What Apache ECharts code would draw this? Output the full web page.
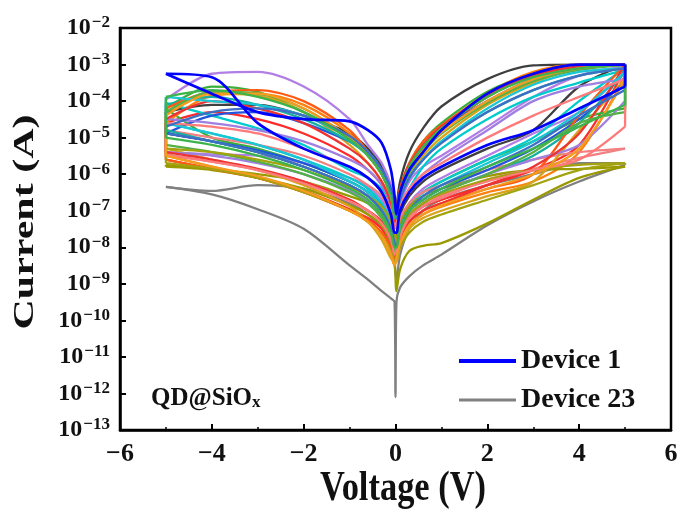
<!DOCTYPE html>
<html><head><meta charset="utf-8">
<script src="https://cdn.jsdelivr.net/npm/echarts@6/dist/echarts.min.js"></script>
<style>html,body{margin:0;padding:0;background:#fff}#c{width:681px;height:516px}</style>
</head><body><div id="c"></div>
<script>
// Voltage sweep grids (V)
const V_POS = [0.02, 0.1, 0.3, 0.6, 1, 2, 3, 4, 5];
const V_NEG = [-0.02, -0.1, -0.3, -0.6, -1, -2, -3, -4, -5];
const X_TICKS = [-6, -4, -2, 0, 2, 4, 6];
const Y_MIN = 1e-13, Y_MAX = 1e-2;
const DEVICES = ['Device 1','Device 2','Device 3','Device 4','Device 5','Device 6','Device 7','Device 8','Device 9','Device 10','Device 11','Device 12','Device 13','Device 14','Device 15','Device 16','Device 17','Device 18','Device 19','Device 20','Device 21','Device 22','Device 23'];
const COLORS = ['#0000ff','#ff2a2a','#3cae3c','#3f3f3f','#b27ee6','#ff7f0e','#00cccc','#999900','#f28080','#d9a21b','#2255dd','#17b0a0','#ff5a14','#9f7fe0','#ee3333','#55b045','#19c6d6','#a3a30f','#ff7a7a','#f39c1f','#3f6fc4','#3cb44b','#808080'];
// current (A), positive side, forward sweep (high-resistance, with set jump)
const POS_HRS = [
 [2.5e-8,1e-7,3.2e-7,7.9e-7,1.6e-6,6.3e-6,1.6e-5,6.3e-5,2.5e-4],
 [1e-8,2.5e-8,6.3e-8,1.3e-7,2e-7,5e-7,1.3e-6,6.3e-6,7.9e-4],
 [1.6e-8,5e-8,1.3e-7,3.2e-7,6.3e-7,2.5e-6,7.9e-6,3.2e-5,6.3e-5],
 [2e-8,7.9e-8,2.5e-7,6.3e-7,1.3e-6,5e-6,1.6e-5,2.5e-4,1e-3],
 [1.6e-8,5e-8,1.6e-7,4e-7,7.9e-7,3.2e-6,1.3e-5,5e-5,6.3e-4],
 [5e-9,1.6e-8,4e-8,7.9e-8,1.3e-7,3.2e-7,6.3e-7,4e-6,5e-4],
 [1e-8,4e-8,1.3e-7,3.2e-7,6.3e-7,2.5e-6,1e-5,1e-4,7.9e-4],
 [6.3e-10,2.5e-9,7.9e-9,1.1e-8,1.3e-8,4.5e-8,2e-7,7.9e-7,1.6e-6],
 [7.9e-9,2.5e-8,7.9e-8,1.4e-7,2.2e-7,7.1e-7,1.4e-6,2.8e-6,5e-6],
 [4e-9,1e-8,3.2e-8,6.3e-8,1e-7,2.5e-7,6.3e-7,1.6e-5,4e-4],
 [1e-8,3.2e-8,1e-7,2e-7,4e-7,1.3e-6,5e-6,3.2e-5,3.2e-4],
 [7.9e-9,2.5e-8,7.9e-8,1.6e-7,3.2e-7,1e-6,3.2e-6,2.5e-5,6.3e-4],
 [6.3e-9,2e-8,5e-8,1e-7,1.6e-7,4e-7,1e-6,4e-5,1e-3],
 [1e-8,3.2e-8,7.9e-8,1.6e-7,3.2e-7,1e-6,2.5e-6,6.3e-6,1e-4],
 [6.3e-9,1.6e-8,5e-8,1e-7,1.6e-7,5e-7,1.6e-6,1.3e-5,1e-3],
 [7.9e-9,2.5e-8,7.9e-8,1.6e-7,3.2e-7,1e-6,4e-6,2.5e-5,5e-5],
 [1e-8,3.2e-8,1e-7,2.5e-7,5e-7,2e-6,7.9e-6,5e-5,6.3e-4],
 [5e-9,1e-8,2.5e-8,5e-8,7.9e-8,2e-7,5e-7,1.3e-6,2e-6],
 [7.9e-9,2e-8,6.3e-8,1.3e-7,2.5e-7,6.3e-7,1.3e-6,2.5e-6,2e-5],
 [5e-9,1.3e-8,4e-8,7.9e-8,1.4e-7,4e-7,1e-6,5e-6,4e-4],
 [1e-8,3.2e-8,1e-7,2.5e-7,5e-7,1.6e-6,6.3e-6,4e-5,2e-4],
 [1e-8,3.2e-8,1e-7,2e-7,4e-7,1.6e-6,5e-6,2e-5,7.9e-5],
 [3.2e-10,7.9e-10,1.6e-9,3.2e-9,6.3e-9,4e-8,1.8e-7,6.3e-7,1.8e-6]
];
// positive side, return sweep (low-resistance)
const POS_LRS = [
 [7.9e-8,3.2e-7,1.3e-6,4e-6,1.6e-5,1.6e-4,5.6e-4,1e-3,1e-3],
 [6.3e-8,2.5e-7,1.3e-6,5e-6,1.6e-5,1.3e-4,5e-4,8.9e-4,1e-3],
 [1e-7,4e-7,2e-6,7.9e-6,2.5e-5,1.8e-4,5.6e-4,8.9e-4,1e-3],
 [1.3e-7,6.3e-7,4e-6,1.8e-5,7.1e-5,4e-4,9.5e-4,1e-3,1e-3],
 [5e-8,1.6e-7,6.3e-7,1.6e-6,3.2e-6,2e-5,1.3e-4,5e-4,8.9e-4],
 [7.9e-8,3.2e-7,1.6e-6,6.3e-6,2e-5,1.6e-4,6.3e-4,1e-3,1e-3],
 [4e-8,1.3e-7,4e-7,1.6e-6,5e-6,3.2e-5,1.3e-4,3.2e-4,7.1e-4],
 [1.6e-8,5e-8,1.3e-7,2.5e-7,4e-7,8.9e-7,1.3e-6,1.4e-6,1.6e-6],
 [2.5e-8,6.3e-8,1.6e-7,3.2e-7,5e-7,1.3e-6,2.5e-6,4e-6,5e-6],
 [6.3e-8,2.5e-7,1e-6,3.2e-6,1e-5,7.9e-5,3.2e-4,7.9e-4,1e-3],
 [7.9e-8,3.2e-7,1.4e-6,5e-6,1.6e-5,1e-4,4e-4,7.9e-4,1e-3],
 [5e-8,2e-7,7.9e-7,2.5e-6,7.9e-6,5e-5,2e-4,5e-4,7.9e-4],
 [1e-7,4e-7,2e-6,7.9e-6,2.2e-5,1.4e-4,5e-4,8.9e-4,1e-3],
 [4e-8,1.3e-7,4e-7,1e-6,2.5e-6,1.6e-5,1e-4,2.5e-4,4e-4],
 [1e-7,4e-7,1.8e-6,6.3e-6,2e-5,1.4e-4,5e-4,8.9e-4,1e-3],
 [6.3e-8,2.5e-7,1.1e-6,4e-6,1.3e-5,8.9e-5,3.5e-4,7.1e-4,1e-3],
 [6.3e-8,2e-7,7.9e-7,2.5e-6,7.9e-6,6.3e-5,2.8e-4,6.3e-4,7.9e-4],
 [1.3e-8,3.2e-8,7.9e-8,1.6e-7,2.8e-7,7.1e-7,1.3e-6,1.8e-6,2e-6],
 [4e-8,1.3e-7,4e-7,1e-6,2e-6,1e-5,4e-5,1.3e-4,4e-4],
 [7.9e-8,3.2e-7,1.4e-6,4.5e-6,1.4e-5,1e-4,4e-4,7.9e-4,1e-3],
 [6.3e-8,2e-7,7.9e-7,2.5e-6,7.1e-6,5e-5,2e-4,5e-4,7.9e-4],
 [7.9e-8,3.2e-7,1.6e-6,5.6e-6,1.8e-5,1.3e-4,4.5e-4,7.9e-4,1e-3],
 [1.3e-9,6.3e-9,3.2e-8,1e-7,2e-7,5e-7,1e-6,2e-6,2e-6]
];
// negative side, sweep 0 -> -5 (low-resistance with reset)
const NEG_LRS = [
 [2.5e-7,1.3e-6,7.1e-6,1.6e-5,2.8e-5,3.2e-5,5e-5,1.6e-4,5.6e-4],
 [4e-8,1.3e-7,5e-7,1.3e-6,3.2e-6,1.3e-5,3.2e-5,5e-5,2.5e-5],
 [6.3e-8,2.5e-7,1e-6,3.2e-6,1e-5,5e-5,1.8e-4,2.5e-4,6.3e-5],
 [7.9e-8,3.2e-7,1.6e-6,5e-6,1.3e-5,4e-5,7.9e-5,7.9e-5,5e-5],
 [1.3e-7,5e-7,2e-6,6.3e-6,3.2e-5,2.5e-4,6.3e-4,5.6e-4,1.1e-4],
 [1e-7,3.2e-7,1e-6,3.2e-6,1.3e-5,7.9e-5,1.6e-4,1.4e-4,2.5e-5],
 [6.3e-8,1.6e-7,4e-7,7.9e-7,1.3e-6,6.3e-6,1.8e-5,4e-5,8.9e-5],
 [1.3e-8,3.2e-8,7.9e-8,1.6e-7,2.5e-7,6.3e-7,1e-6,1.4e-6,1.8e-6],
 [2.5e-8,7.9e-8,2.5e-7,5e-7,1e-6,3.2e-6,6.3e-6,1e-5,1.6e-5],
 [5e-8,1.6e-7,6.3e-7,2e-6,6.3e-6,5e-5,1.4e-4,1.6e-4,5e-5],
 [1e-7,4e-7,1.3e-6,4e-6,7.9e-6,2.5e-5,5e-5,4e-5,1.3e-5],
 [7.9e-8,2.5e-7,1e-6,3.2e-6,7.9e-6,3.2e-5,7.9e-5,1.3e-4,7.9e-5],
 [6.3e-8,2.5e-7,1e-6,4e-6,1.6e-5,1e-4,2e-4,1.8e-4,6.3e-5],
 [5e-8,1.6e-7,5e-7,1.3e-6,2.5e-6,7.9e-6,1.6e-5,2.5e-5,3.2e-5],
 [5e-8,1.6e-7,6.3e-7,2e-6,5e-6,2.5e-5,6.3e-5,1e-4,3.2e-5],
 [7.9e-8,2.5e-7,1e-6,3.2e-6,1e-5,6.3e-5,1.6e-4,1.8e-4,5e-5],
 [1e-7,3.2e-7,1.3e-6,4e-6,1e-5,4e-5,7.9e-5,1e-4,1.3e-4],
 [2e-8,5e-8,1.3e-7,2.5e-7,4.5e-7,1.3e-6,2.5e-6,4e-6,5e-6],
 [3.2e-8,1e-7,3.2e-7,7.9e-7,1.6e-6,5e-6,1.3e-5,2e-5,2.5e-5],
 [7.9e-8,2.5e-7,1e-6,3.2e-6,1e-5,6.3e-5,1.6e-4,1.6e-4,4e-5],
 [1e-7,3.2e-7,1.3e-6,4e-6,1.1e-5,4e-5,6.3e-5,5e-5,2e-5],
 [6.3e-8,2.5e-7,1e-6,3.2e-6,8.9e-6,5e-5,1.3e-4,2e-4,1.3e-4],
 [3.2e-9,1e-8,3.2e-8,7.9e-8,1.6e-7,4e-7,5e-7,3.5e-7,4.5e-7]
];
// negative side, return sweep -5 -> 0 (high-resistance)
const NEG_HRS = [
 [2.5e-8,7.9e-8,3.2e-7,7.9e-7,1.6e-6,5e-6,2.5e-5,4.5e-4,5.6e-4],
 [5e-9,1.3e-8,3.2e-8,6.3e-8,1.1e-7,3.5e-7,7.9e-7,1.4e-6,2.5e-6],
 [1.3e-8,4e-8,1.3e-7,3.2e-7,6.3e-7,2e-6,5e-6,1e-5,6.3e-5],
 [1e-8,3.2e-8,1e-7,2.5e-7,5e-7,1.6e-6,4e-6,7.9e-6,1.3e-5],
 [2e-8,6.3e-8,2e-7,4.5e-7,7.9e-7,2e-6,3.2e-6,3.5e-6,4e-6],
 [3.2e-9,6.3e-9,2e-8,5e-8,1e-7,3.2e-7,7.9e-7,1.6e-6,3.2e-6],
 [1.6e-8,5e-8,1.6e-7,4e-7,7.9e-7,2.5e-6,6.3e-6,1.3e-5,2.5e-5],
 [5e-9,1.3e-8,4e-8,7.9e-8,1.4e-7,4e-7,7.9e-7,1.3e-6,1.6e-6],
 [6.3e-9,1.6e-8,5e-8,1e-7,2e-7,6.3e-7,1.3e-6,2.2e-6,3.5e-6],
 [4e-9,5e-9,1.6e-8,5e-8,1.3e-7,5e-7,1.3e-6,2.5e-6,5e-6],
 [1.3e-8,4e-8,1.3e-7,3.2e-7,6.3e-7,2e-6,4.5e-6,7.9e-6,1.3e-5],
 [1e-8,3.2e-8,1e-7,2.5e-7,5e-7,1.6e-6,4e-6,7.9e-6,1.6e-5],
 [4e-9,1e-8,2.5e-8,5.6e-8,1e-7,3.2e-7,7.9e-7,1.4e-6,2.5e-6],
 [1e-8,2.5e-8,7.9e-8,1.8e-7,3.5e-7,1e-6,2e-6,3.2e-6,4e-6],
 [6.3e-9,1.6e-8,5e-8,1e-7,2e-7,6.3e-7,1.4e-6,2.5e-6,4e-6],
 [7.9e-9,2e-8,6.3e-8,1.6e-7,3.2e-7,1e-6,2.2e-6,4e-6,6.3e-6],
 [1.3e-8,4e-8,1.3e-7,3.2e-7,6.3e-7,2.5e-6,6.3e-6,1.3e-5,2.5e-5],
 [4e-9,7.9e-9,2e-8,5e-8,1e-7,3.2e-7,7.9e-7,1.4e-6,2e-6],
 [6.3e-9,1.6e-8,4.5e-8,1e-7,1.8e-7,5.6e-7,1.3e-6,2.2e-6,3.2e-6],
 [3.2e-9,6.3e-9,2e-8,5e-8,1e-7,3.5e-7,8.9e-7,1.6e-6,3.2e-6],
 [1.3e-8,3.2e-8,1e-7,2.5e-7,5e-7,1.6e-6,4e-6,7.9e-6,1.3e-5],
 [1e-8,2.5e-8,7.9e-8,2e-7,4e-7,1.3e-6,3.2e-6,6.3e-6,1e-5],
 [3.2e-10,4e-10,6.3e-10,1.3e-9,3.2e-9,3.2e-8,1.1e-7,2.8e-7,4.5e-7]
];
// Device 23 minimum current at 0 V
const D23_ZERO = 8e-13;

const FONT = 'Liberation Serif';
const N = V_POS.length;
// high-resistance path: -5 -> 0 -> +5 ; low-resistance path: +5 -> 0 -> -5
function hrsPath(i) {
  const pts = [];
  for (let k = N - 1; k >= 0; k--) pts.push([V_NEG[k], NEG_HRS[i][k]]);
  if (i === 22) pts.push([0, D23_ZERO]);
  for (let k = 0; k < N; k++) pts.push([V_POS[k], POS_HRS[i][k]]);
  return pts;
}
function lrsPath(i) {
  const pts = [];
  for (let k = N - 1; k >= 0; k--) pts.push([V_POS[k], POS_LRS[i][k]]);
  for (let k = 0; k < N; k++) pts.push([V_NEG[k], NEG_LRS[i][k]]);
  return pts;
}
const order = [22]; for (let i = 1; i < 22; i++) order.push(i); order.push(0);
const series = [];
order.forEach(i => {
  const ls = { color: COLORS[i], width: i === 0 ? 2.7 : 2.3 };
  const base = { name: DEVICES[i], type: 'line', symbol: 'none', itemStyle: { color: COLORS[i] }, lineStyle: ls, z: 2 };
  series.push(Object.assign({}, base, { data: hrsPath(i), smooth: 0.3 }));
  series.push(Object.assign({}, base, { data: lrsPath(i), smooth: 0.3 }));
  series.push(Object.assign({}, base, { data: [[V_POS[N - 1], POS_HRS[i][N - 1]], [V_POS[N - 1], POS_LRS[i][N - 1]]] }));
  series.push(Object.assign({}, base, { data: [[V_NEG[N - 1], NEG_LRS[i][N - 1]], [V_NEG[N - 1], NEG_HRS[i][N - 1]]] }));
});
const sup = n => String(n).replace('-', '\u2212');
const chart = echarts.init(document.getElementById('c'), null, { renderer: 'canvas' });
chart.setOption({
  animation: false,
  backgroundColor: '#fff',
  grid: { left: 120, right: 10, top: 28, bottom: 86, show: true, borderColor: '#000', borderWidth: 2.5, backgroundColor: 'transparent' },
  xAxis: {
    type: 'value', min: X_TICKS[0], max: X_TICKS[X_TICKS.length - 1], interval: 2,
    axisLine: { onZero: false, lineStyle: { color: '#000', width: 2.5 } },
    axisTick: { inside: true, length: 6, lineStyle: { color: '#000', width: 2 } },
    minorTick: { show: true, splitNumber: 2, length: 3, lineStyle: { color: '#000', width: 1.5 } },
    splitLine: { show: false },
    axisLabel: { fontFamily: FONT, fontWeight: 'bold', fontSize: 26, color: '#111', margin: 11,
      formatter: v => sup(v) }
  },
  yAxis: {
    type: 'log', logBase: 10, min: Y_MIN, max: Y_MAX, interval: 1,
    axisLine: { onZero: false, lineStyle: { color: '#000', width: 2.5 } },
    axisTick: { inside: true, length: 6, lineStyle: { color: '#000', width: 2 } },
    minorTick: { show: false },
    splitLine: { show: false },
    axisLabel: { margin: 10, color: '#111',
      formatter: v => '{b|10}{s|' + sup(Math.round(Math.log10(v))) + '}',
      rich: {
        b: { fontFamily: FONT, fontWeight: 'bold', fontSize: 24, color: '#111' },
        s: { fontFamily: FONT, fontWeight: 'bold', fontSize: 17, color: '#111', verticalAlign: 'top', padding: [0, 0, 10, 1] }
      } }
  },
  legend: {
    data: [{ name: 'Device 1', lineStyle: { width: 4 } }, { name: 'Device 23', lineStyle: { width: 3 } }],
    orient: 'vertical', left: 452, top: 342, itemWidth: 57, itemHeight: 14, itemGap: 11,
    itemStyle: { opacity: 0 },
    textStyle: { fontFamily: FONT, fontWeight: 'bold', fontSize: 28, color: '#111', lineHeight: 28 }
  },
  graphic: [
    { type: 'text', x: 25, y: 222, rotation: Math.PI / 2, scaleX: 1.05, scaleY: 0.75,
      style: { text: 'Current (A)', font: 'bold 40px "Liberation Serif"', fill: '#111', align: 'center', verticalAlign: 'middle' } },
    { type: 'text', x: 403, y: 489, scaleX: 0.82, scaleY: 1,
      style: { text: 'Voltage (V)', font: 'bold 42px "Liberation Serif"', fill: '#111', align: 'center', verticalAlign: 'middle' } },
    { type: 'text', x: 151, y: 386,
      style: { text: '{a|QD@SiO}{b|x}', rich: {
        a: { fontFamily: FONT, fontWeight: 'bold', fontSize: 25, fill: '#111', color: '#111' },
        b: { fontFamily: FONT, fontWeight: 'bold', fontSize: 17, fill: '#111', color: '#111', padding: [8, 0, 0, 0] } } } }
  ],
  series: series
});
</script></body></html>
